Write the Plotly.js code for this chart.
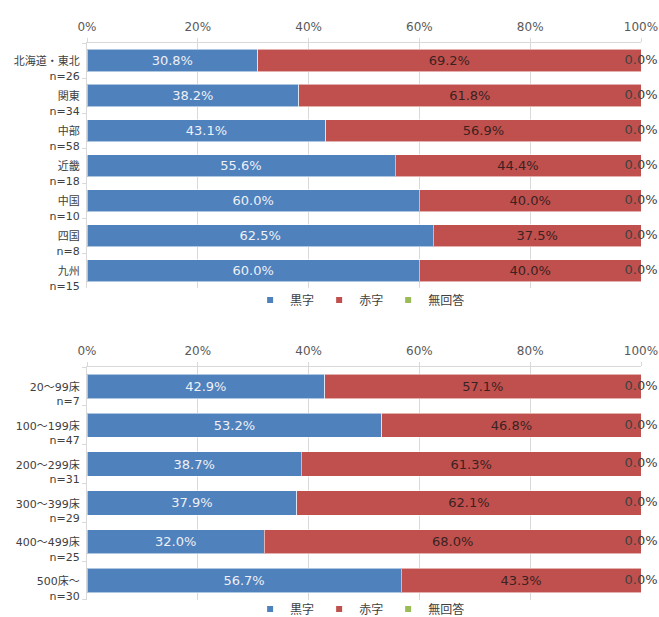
<!DOCTYPE html>
<html>
<head>
<meta charset="utf-8">
<script src="https://cdn.plot.ly/plotly-3.0.1.min.js"></script>
<style>html,body{margin:0;padding:0;background:#fff;}#chart{width:659px;height:617px;}</style>
</head>
<body>
<div id="chart"></div>
<script>
// ---- Data ----
var seriesNames = ['黒字', '赤字', '無回答'];
var seriesColors = ['#4F81BD', '#C0504D', '#9BBB59'];

var regions = ['北海道・東北', '関東', '中部', '近畿', '中国', '四国', '九州'];
var regionN = [26, 34, 58, 18, 10, 8, 15];
var regionBlack = [30.8, 38.2, 43.1, 55.6, 60.0, 62.5, 60.0];
var regionRed = [69.2, 61.8, 56.9, 44.4, 40.0, 37.5, 40.0];
var regionNone = [0.0, 0.0, 0.0, 0.0, 0.0, 0.0, 0.0];

var beds = ['20～99床', '100～199床', '200～299床', '300～399床', '400～499床', '500床～'];
var bedN = [7, 47, 31, 29, 25, 30];
var bedBlack = [42.9, 53.2, 38.7, 37.9, 32.0, 56.7];
var bedRed = [57.1, 46.8, 61.3, 62.1, 68.0, 43.3];
var bedNone = [0.0, 0.0, 0.0, 0.0, 0.0, 0.0];

var xTickVals = [0, 20, 40, 60, 80, 100];
var xTickText = ['0%', '20%', '40%', '60%', '80%', '100%'];

// ---- Build ----
var FONT = 'DejaVu Sans, Noto Sans CJK JP, sans-serif';
function pct(v) { return v.toFixed(1) + '%'; }

function makeTraces(cats, black, red, none, xa, ya, legendId) {
  var t = [];
  var vals = [black, red, none];
  var textColors = ['#eef0f6', '#3a2222', '#404040'];
  for (var s = 0; s < 3; s++) {
    t.push({
      type: 'bar', orientation: 'h', name: seriesNames[s],
      x: vals[s], y: cats, xaxis: xa, yaxis: ya,
      marker: {color: seriesColors[s], line: {color: 'rgba(255,255,255,0.55)', width: 1}},
      text: s < 2 ? vals[s].map(pct) : null,
      textposition: s < 2 ? 'inside' : 'none',
      insidetextanchor: 'middle',
      constraintext: 'none',
      textfont: {family: FONT, size: 13, color: textColors[s]},
      showlegend: false, hoverinfo: 'skip'
    });
  }
  // labels for the zero-width 無回答 segment, at the stacked end
  var ends = cats.map(function (c, i) { return black[i] + red[i] + none[i]; });
  t.push({
    type: 'scatter', mode: 'text', x: ends, y: cats, xaxis: xa, yaxis: ya,
    text: none.map(pct), textposition: 'middle center', cliponaxis: false,
    textfont: {family: FONT, size: 13, color: '#404040'},
    showlegend: false, hoverinfo: 'skip'
  });
  // legend entries
  for (var k = 0; k < 3; k++) {
    t.push({
      type: 'scatter', mode: 'markers', name: seriesNames[k],
      x: [null], y: [null], xaxis: xa, yaxis: ya,
      marker: {symbol: 'square', size: 6, color: seriesColors[k]},
      legend: legendId, showlegend: true, hoverinfo: 'skip'
    });
  }
  return t;
}

var data = [].concat(
  makeTraces(regions, regionBlack, regionRed, regionNone, 'x', 'y', 'legend'),
  makeTraces(beds, bedBlack, bedRed, bedNone, 'x2', 'y2', 'legend2')
);

function xAxis(anchor) {
  return {
    anchor: anchor, side: 'top', range: [0, 100],
    tickvals: xTickVals, ticktext: xTickText,
    showgrid: true, gridcolor: '#d9d9d9', gridwidth: 1,
    showline: true, linecolor: '#d9d9d9', linewidth: 1,
    ticks: 'outside', ticklen: 4, tickcolor: '#d9d9d9',
    ticklabelstandoff: 2,
    tickfont: {family: FONT, size: 12, color: '#595959'},
    zeroline: false, fixedrange: true
  };
}
function yAxis(anchor, cats, ns, domain) {
  return {
    anchor: anchor, domain: domain, type: 'category',
    autorange: 'reversed',
    tickvals: cats,
    ticktext: cats.map(function (c, i) { return c + '<br>n=' + ns[i]; }),
    tickson: 'boundaries', ticks: 'outside', ticklen: 4, tickcolor: '#d9d9d9',
    ticklabelshift: -8, ticklabelstandoff: 4,
    showline: true, linecolor: '#d9d9d9', linewidth: 1,
    showgrid: false, zeroline: false,
    tickfont: {family: FONT, size: 11, color: '#404040'},
    fixedrange: true
  };
}

function legendCfg(y) {
  return {
    orientation: 'h', x: 0.493, xanchor: 'center', y: y, yanchor: 'middle',
    font: {family: FONT, size: 12, color: '#404040'}, itemwidth: 30,
    traceorder: 'normal',
    bgcolor: 'rgba(0,0,0,0)'
  };
}

var layout = {
  width: 659, height: 617,
  margin: {l: 87, r: 18, t: 43, b: 17, autoexpand: false},
  paper_bgcolor: '#ffffff', plot_bgcolor: '#ffffff',
  barmode: 'stack', bargap: 0.37,
  showlegend: true,
  xaxis: xAxis('y'),
  yaxis: yAxis('x', regions, regionN, [0.56, 1]),
  xaxis2: xAxis('y2'),
  yaxis2: yAxis('x2', beds, bedN, [0, 0.4183]),
  legend: legendCfg(0.5386),
  legend2: legendCfg(-0.016)
};

Plotly.newPlot('chart', data, layout, {displayModeBar: false, staticPlot: true});
</script>
</body>
</html>
